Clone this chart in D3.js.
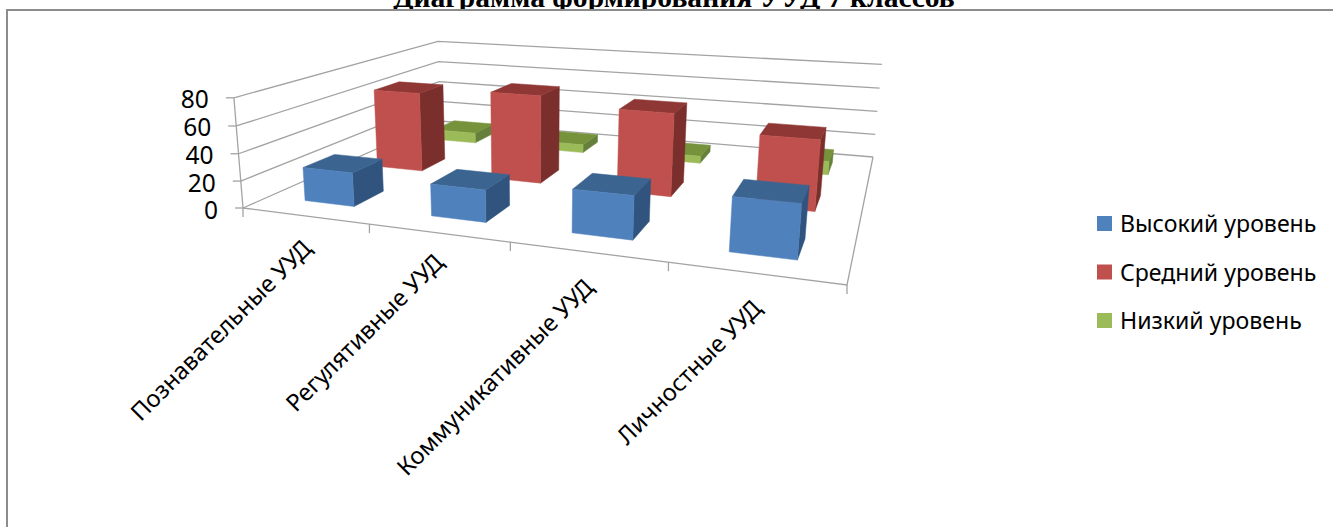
<!DOCTYPE html>
<html><head><meta charset="utf-8">
<script src="https://cdn.jsdelivr.net/npm/d3@7"></script>
<style>html,body{margin:0;padding:0;background:#fff;overflow:hidden}svg{display:block}</style>
</head><body><svg id="c" width="1333" height="527"></svg>
<script>
const titleText = "Диаграмма формирования УУД 7 классов";
const categories = ["Познавательные УУД","Регулятивные УУД","Коммуникативные УУД","Личностные УУД"];
const seriesNames = ["Высокий уровень","Средний уровень","Низкий уровень"];
const high = [25,23,30,36];
const mid = [64,69,63,52];
const low = [9,7,6,11];
const yTicks = [0,20,40,60,80];
const frontColors = ["#4F81BD","#C0504D","#9BBB59"];
const sideColors = ["#30547E","#7B2F2D","#65803A"];
const topColors = ["#3C6491","#8E3735","#76933C"];

const svg = d3.select("#c");
// perspective frame
const FL=[243,208],FR=[847,285],BR=[873,157],BL=[440,121];
const FLt=[232,99],BLt=[440,41],BRt=[881,64];

function homography(p0,p1,p2,p3){ // (0,0),(1,0),(1,1),(0,1)
  const dx1=p1[0]-p2[0],dx2=p3[0]-p2[0],sx=p0[0]-p1[0]+p2[0]-p3[0];
  const dy1=p1[1]-p2[1],dy2=p3[1]-p2[1],sy=p0[1]-p1[1]+p2[1]-p3[1];
  const det=dx1*dy2-dx2*dy1;
  const g=(sx*dy2-dx2*sy)/det,h=(dx1*sy-sx*dy1)/det;
  return {h1:[p1[0]-p0[0]+g*p1[0],p1[1]-p0[1]+g*p1[1],g],
          h2:[p3[0]-p0[0]+h*p3[0],p3[1]-p0[1]+h*p3[1],h],
          h0:[p0[0],p0[1],1]};
}
const H=homography(FL,FR,BR,BL);
function solve3(A,b){
  const m=A.map((r,i)=>[...r,b[i]]);
  for(let i=0;i<3;i++){
    let p=i;for(let k=i+1;k<3;k++)if(Math.abs(m[k][i])>Math.abs(m[p][i]))p=k;
    [m[i],m[p]]=[m[p],m[i]];
    for(let k=0;k<3;k++)if(k!==i){const f=m[k][i]/m[i][i];for(let j=i;j<4;j++)m[k][j]-=f*m[i][j];}
  }
  return m.map((r,i)=>r[3]/r[i]);
}
// vertical column of the projection, least squares over the three known tops
const refs=[[0,0,FLt],[0,1,BLt],[1,1,BRt]];
const ATA=[[0,0,0],[0,0,0],[0,0,0]],ATb=[0,0,0];
refs.forEach(([u,v,s])=>{
  const base=[0,1,2].map(i=>H.h0[i]+u*H.h1[i]+v*H.h2[i]);
  [[1,0,-s[0],s[0]*base[2]-base[0]],[0,1,-s[1],s[1]*base[2]-base[1]]].forEach(r=>{
    for(let i=0;i<3;i++){ATb[i]+=r[i]*r[3];for(let j=0;j<3;j++)ATA[i][j]+=r[i]*r[j];}
  });
});
const Hz=solve3(ATA,ATb);
function project(u,v,w){
  const c=[0,1,2].map(i=>H.h0[i]+u*H.h1[i]+v*H.h2[i]+w*Hz[i]);
  return [c[0]/c[2],c[1]/c[2]];
}
const z=d3.scaleLinear().domain([0,80]).range([0,1]);
const uCat=d3.scaleBand().domain(d3.range(categories.length)).range([0,1]).paddingInner(0.6).paddingOuter(0.3);
const vSer=d3.scaleBand().domain(d3.range(seriesNames.length)).range([0,1]).paddingInner(0.6).paddingOuter(0.3);
const uTick=d3.scaleLinear().domain([0,categories.length]).range([0,1]);
const line=d3.line();
const GRID="#a3a3a3";

svg.append("text").attr("x",674).attr("y",6.5).attr("text-anchor","middle")
  .attr("font-family","Liberation Serif").attr("font-weight","bold").attr("font-size",29.6).text(titleText);
// white mask below the frame line hides the cut-off descenders, frame on top
svg.append("rect").attr("x",0).attr("y",10).attr("width",1333).attr("height",517).attr("fill","#fff");
svg.append("path").attr("d","M7,527V10H1333").attr("fill","none").attr("stroke","#8c8c8c").attr("stroke-width",2);

// walls
const g=svg.append("g").attr("fill","none").attr("stroke",GRID).attr("stroke-width",1.3);
yTicks.forEach(t=>{
  g.append("path").attr("d",line([project(0,0,z(t)),project(0,1,z(t)),project(1,1,z(t))]));
  const a=project(0,0,z(t));
  g.append("path").attr("d",line([[a[0]-8,a[1]],a]));
});
g.append("path").attr("d",line([project(0,0,0),project(0,0,1)]));
g.append("path").attr("d",line([project(0,0,0),project(1,0,0),project(1,1,0)]));
d3.range(categories.length+1).forEach(i=>{
  const a=project(uTick(i),0,0);
  g.append("path").attr("d",line([a,[a[0],a[1]+9]]));
});

// bars: back row first, left to right
const allValues=[high,mid,low];
const barsG=svg.append("g");
[2,1,0].forEach(s=>{
  allValues[s].forEach((val,c)=>{
    const u0=uCat(c),u1=u0+uCat.bandwidth(),v0=vSer(s),v1=v0+vSer.bandwidth(),w=z(val);
    const face=(pts,col)=>barsG.append("path").attr("d",line(pts)+"Z").attr("fill",col).attr("stroke",col).attr("stroke-width",0.5);
    face([project(u1,v0,0),project(u1,v1,0),project(u1,v1,w),project(u1,v0,w)],sideColors[s]);
    face([project(u0,v0,w),project(u1,v0,w),project(u1,v1,w),project(u0,v1,w)],topColors[s]);
    face([project(u0,v0,0),project(u1,v0,0),project(u1,v0,w),project(u0,v0,w)],frontColors[s]);
  });
});

const FONT="Noto Sans",FS=23.3;
yTicks.forEach(t=>{
  const a=project(0,0,z(t));
  svg.append("text").attr("x",a[0]-25).attr("y",a[1]+10.5).attr("text-anchor","end")
    .attr("font-family",FONT).attr("font-size",24.5).attr("fill","#000").text(t);
});
const labelAnchor=[[313,250],[445,264],[595,289],[763,310]];
categories.forEach((name,i)=>{
  svg.append("text").attr("transform",`translate(${labelAnchor[i][0]},${labelAnchor[i][1]}) rotate(-45)`)
    .attr("text-anchor","end").attr("font-family",FONT).attr("font-size",23.7).attr("fill","#000").text(name);
});
const legY=d3.scalePoint().domain(seriesNames).range([223.5,320.5]);
seriesNames.forEach((n,i)=>{
  svg.append("rect").attr("x",1097).attr("y",legY(n)-7.5).attr("width",15).attr("height",15).attr("fill",frontColors[i]);
  svg.append("text").attr("x",1120).attr("y",legY(n)+8.5).attr("font-family",FONT).attr("font-size",FS-0.2).attr("fill","#000").text(n);
});
</script></body></html>
